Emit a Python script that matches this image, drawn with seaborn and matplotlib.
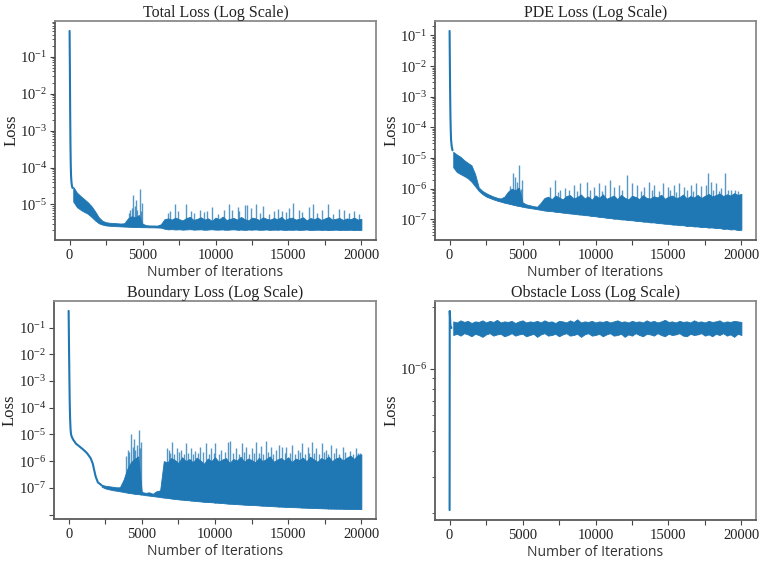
import numpy as np
import matplotlib
matplotlib.use("Agg")
import matplotlib.pyplot as plt
import seaborn as sns
from matplotlib.ticker import MultipleLocator, LogLocator, FuncFormatter, NullFormatter

sns.set_theme(style="ticks")
plt.rcParams["font.family"] = ["Liberation Serif", "DejaVu Serif"]
plt.rcParams["mathtext.fontset"] = "stix"
plt.rcParams["axes.unicode_minus"] = False

BLUE = "#1f77b4"

# ---------------------------------------------------------------- data
# Iteration grid on which the noisy band (lower / upper envelope) is sampled
band_iters = np.arange(250, 20001, 250)
boundary_band_iters = np.arange(2250, 20001, 250)

# ---- Total loss
total_head_iters = [0, 20, 40, 60, 80, 100, 130, 160, 200]
total_head_loss = [0.5, 0.05, 3e-3, 4e-4, 1.2e-4, 6e-5, 4e-5, 3.2e-5, 2.8e-5]
total_low = np.array([
    12, 8.5, 7.2, 6.3, 5.6, 4.6, 3.7, 3.1, 2.85, 2.7,
    2.65, 2.6, 2.58, 2.55, 2.52, 2.5, 2.48, 2.46, 2.45, 2.42,
    2.42, 2.4, 2.4, 2.38, 2.36, 2.2, 2.12, 2.15, 2.1, 2.13,
    2.08, 2.11, 2.14, 2.09, 2.1, 2.12, 2.07, 2.1, 2.13, 2.08,
    2.09, 2.11, 2.06, 2.1, 2.12, 2.07, 2.09, 2.05, 2.1, 2.08,
    2.11, 2.06, 2.08, 2.1, 2.05, 2.09, 2.07, 2.1, 2.04, 2.08,
    2.06, 2.09, 2.05, 2.07, 2.1, 2.04, 2.06, 2.08, 2.05, 2.07,
    2.03, 2.06, 2.08, 2.04, 2.06, 2.05, 2.07, 2.03, 2.05, 2.04]) * 1e-6
total_high = np.array([
    30, 21, 17, 14, 11.5, 9, 6.5, 4.5, 3.6, 3.3,
    3.2, 3.15, 3.1, 3.05, 3.1, 4.2, 4.8, 4.5, 5.2, 3.0,
    2.75, 2.7, 2.7, 2.68, 2.9, 4.0, 4.2, 3.9, 4.4, 4.0,
    3.7, 4.3, 4.6, 3.8, 4.1, 4.5, 3.9, 4.2, 3.6, 4.4,
    4.0, 4.7, 3.8, 4.1, 4.3, 3.9, 4.6, 4.0, 3.7, 4.4,
    4.2, 3.8, 4.5, 4.1, 3.9, 4.3, 4.0, 4.6, 3.8, 4.2,
    4.4, 3.9, 4.1, 4.5, 3.7, 4.3, 4.0, 4.4, 3.8, 4.2,
    4.6, 3.9, 4.1, 4.3, 3.8, 4.2, 4.0, 4.4, 3.9, 4.1]) * 1e-6
total_spike_iters = [4050, 4150, 4250, 4350, 4450, 4550, 4650, 4800, 4900, 4980,
                     6750, 6900, 7210, 7440, 7950, 8290, 8520, 8930, 9210, 9430,
                     9730, 10190, 10580, 10920, 11150, 11520, 11610, 12020, 12180, 12410,
                     12750, 13030, 13280, 13670, 14010, 14310, 14540, 14820, 15040, 15340,
                     15730, 15960, 16420, 16690, 16990, 17290, 17680, 18020, 18480, 18820,
                     19120, 19510, 19850]
total_spike_tops = np.array([6, 7, 8, 18, 9, 13, 7, 27, 6.5, 11,
                             6.0, 6.6, 10.5, 6.6, 10, 6.6, 6.0, 7.3, 6.2, 6.6,
                             8.5, 5.4, 7.3, 10, 7.3, 8.5, 6.6, 9.5, 9.5, 8.1,
                             10.5, 6.0, 9.0, 5.4, 6.6, 7.7, 6.6, 6.2, 8.1, 11,
                             7.3, 6.2, 8.5, 10, 6.0, 7.3, 10, 5.4, 7.7, 7.3,
                             6.0, 6.6, 5.4]) * 1e-6

# ---- PDE loss
pde_head_iters = [0, 20, 40, 60, 80, 100, 130, 160, 200]
pde_head_loss = [0.14, 0.01, 1e-3, 2e-4, 8e-5, 4e-5, 2.8e-5, 2.2e-5, 1.8e-5]
pde_low = np.array([
    50, 35, 30, 26, 22, 17, 12, 8.5, 6.7, 5.6,
    5.0, 4.5, 4.1, 3.8, 3.5, 3.3, 3.1, 2.9, 2.75, 2.6,
    2.45, 2.35, 2.25, 2.15, 2.05, 1.95, 1.88, 1.86, 1.78, 1.74,
    1.66, 1.63, 1.56, 1.53, 1.47, 1.44, 1.38, 1.36, 1.29, 1.27,
    1.21, 1.19, 1.13, 1.11, 1.06, 1.05, 1.0, 0.99, 0.95, 0.94,
    0.9, 0.89, 0.85, 0.84, 0.8, 0.8, 0.76, 0.75, 0.72, 0.72,
    0.68, 0.68, 0.65, 0.65, 0.61, 0.62, 0.59, 0.59, 0.56, 0.57,
    0.54, 0.55, 0.52, 0.53, 0.49, 0.5, 0.47, 0.48, 0.45, 0.46]) * 1e-7
pde_high = np.array([
    160, 130, 110, 85, 70, 58, 30, 11, 8.5, 7.2,
    6.3, 5.6, 5.1, 4.8, 5.5, 8, 10, 9, 11, 3.6,
    3.1, 2.9, 2.7, 2.6, 3.5, 5.0, 5.5, 4.6, 6.0, 5.2,
    4.5, 5.8, 6.2, 4.8, 5.4, 6.5, 4.9, 5.6, 4.4, 6.1,
    5.0, 6.6, 4.7, 5.3, 6.0, 4.6, 6.3, 5.1, 4.5, 5.9,
    5.4, 4.6, 6.2, 5.0, 4.8, 5.7, 5.2, 6.4, 4.7, 5.5,
    6.0, 5.0, 5.3, 6.5, 4.8, 5.8, 5.2, 6.3, 5.0, 5.9,
    6.8, 5.6, 6.2, 7.0, 5.8, 6.6, 6.0, 7.2, 6.3, 6.8]) * 1e-7
pde_spike_iters = [4140, 4320, 4490, 4600, 4780, 4900, 4990,
                   6900, 7240, 7400, 7590, 7930, 8200, 8510, 8750, 8970, 9430,
                   9650, 9890, 10230, 10450, 10620, 10990, 11270, 11610, 11850, 12190,
                   12530, 12870, 13100, 13330, 13680, 13900, 14020, 14350, 14600, 14940,
                   15100, 15360, 15550, 15750, 16090, 16300, 16550, 16700, 16900, 17200,
                   17590, 17700, 17930, 18050, 18280, 18450, 18620, 18850, 19080, 19300,
                   19540, 19800]
pde_spike_tops = np.array([12, 33, 25, 17, 59, 10, 19,
                           11.6, 19, 8, 9, 10.3, 9, 13, 8.5, 15.7, 16.9,
                           9, 11.6, 14.9, 8.5, 13, 19, 11.6, 13, 9, 29,
                           15.7, 13, 8.5, 11.6, 16.9, 9, 13, 8.5, 14.9, 11.6,
                           9, 13, 8, 15.7, 11.6, 9, 13, 8.5, 15.7, 12,
                           13, 33, 16.9, 9, 14.9, 8.5, 10.3, 33, 9, 9,
                           9, 8.5]) * 1e-7

# ---- Boundary loss
boundary_head_iters = [0, 25, 50, 75, 100, 130, 160, 200, 300, 500, 750, 1000,
                       1250, 1500, 1650, 1750, 1850, 2000, 2250]
boundary_head_loss = [0.42, 2e-2, 1.5e-3, 1.5e-4, 4e-5, 1.6e-5, 1.05e-5, 8.5e-6,
                      6.5e-6, 4.5e-6, 3.5e-6, 2.7e-6, 2e-6, 1.3e-6, 8e-7, 4.5e-7,
                      2.6e-7, 1.6e-7, 1.25e-7]
boundary_low = np.array([
    11, 9.5, 8.8, 8.2, 7.8, 7.4, 7.0, 6.6, 6.3, 6.0,
    5.8, 5.6, 5.3, 5.1, 4.9, 4.7, 4.5, 4.3, 4.2, 4.0,
    3.85, 3.7, 3.6, 3.5, 3.4, 3.3, 3.2, 3.1, 3.0, 2.95,
    2.9, 2.8, 2.75, 2.7, 2.6, 2.55, 2.5, 2.45, 2.4, 2.35,
    2.3, 2.28, 2.25, 2.2, 2.15, 2.12, 2.1, 2.05, 2.0, 1.98,
    1.95, 1.92, 1.9, 1.88, 1.85, 1.82, 1.8, 1.78, 1.76, 1.74,
    1.72, 1.7, 1.68, 1.67, 1.66, 1.65, 1.64, 1.63, 1.62, 1.61,
    1.6, 1.6]) * 1e-8
boundary_high = np.array([
    13, 12, 11.5, 11, 10.5, 10.5, 20, 50, 90, 120,
    150, 7, 6.5, 6.8, 6.0, 7.5, 8.0, 100, 90, 130,
    110, 85, 140, 100, 120, 90, 135, 105, 80, 125,
    100, 140, 95, 115, 130, 85, 120, 105, 145, 95,
    125, 110, 90, 135, 100, 120, 150, 95, 115, 130,
    105, 140, 90, 125, 110, 135, 100, 145, 115, 95,
    130, 110, 150, 100, 125, 140, 105, 135, 160, 120,
    170, 180]) * 1e-8
boundary_spike_iters = [3900, 4050, 4150, 4290, 4380, 4470, 4560, 4650, 4790, 4880, 4975,
                        6700, 6850, 6950, 7080, 7230, 7380, 7530, 7680, 7850, 8000,
                        8180, 8370, 8500, 8640, 8820, 8990, 9200, 9380, 9560, 9750,
                        9900, 10020, 10250, 10430, 10650, 10890, 11050, 11250, 11440, 11650,
                        11850, 12000, 12130, 12300, 12500, 12650, 12820, 13000, 13120, 13300,
                        13460, 13650, 13800, 13980, 14150, 14380, 14610, 14800, 14880, 15100,
                        15290, 15450, 15640, 15800, 15940, 16150, 16330, 16450, 16620, 16750,
                        16900, 17100, 17310, 17450, 17590, 17750, 17930, 18100, 18270, 18450,
                        18730, 18900, 19190, 19400, 19650, 19750, 19880]
boundary_spike_tops = np.array([1.5, 2.5, 2.2, 10, 3.5, 6.5, 2.6, 4, 15, 3, 5,
                                3.0, 2.6, 2.0, 5.4, 1.8, 3.0, 2.2, 2.6, 1.9, 4.9,
                                2.1, 3.0, 1.8, 2.3, 2.0, 3.5, 2.2, 4.7, 1.9, 3.0,
                                2.1, 4.7, 1.8, 2.6, 2.2, 5.4, 5.6, 2.0, 3.0, 1.9,
                                4.7, 2.2, 3.5, 1.8, 3.0, 2.0, 5.4, 2.1, 3.7, 1.9,
                                5.8, 2.2, 3.5, 1.8, 2.6, 4.0, 3.5, 2.0, 3.5, 2.1,
                                4.0, 1.9, 2.6, 2.2, 4.7, 1.8, 3.5, 2.0, 5.4, 2.1,
                                3.0, 1.9, 4.7, 2.2, 2.6, 1.8, 4.0, 2.1, 3.0, 1.9,
                                3.5, 2.2, 2.3, 1.8, 3.0, 2.0, 2.0]) * 1e-6

# ---- Obstacle loss
obstacle_head_iters = [0, 10, 60, 125]
obstacle_head_loss = [2.07e-7, 1.91e-6, 1.62e-6, 1.58e-6]
obstacle_low = np.array([
    14.6, 14.8, 14.5, 14.9, 14.7, 14.4, 14.8, 14.6, 14.3, 14.7,
    14.9, 14.5, 14.7, 14.8, 14.4, 14.6, 14.9, 14.5, 14.7, 14.8,
    14.4, 14.6, 14.8, 14.3, 14.7, 14.9, 14.5, 14.6, 14.8, 14.4,
    14.7, 14.9, 14.5, 14.6, 14.8, 14.3, 14.7, 14.9, 14.5, 14.6,
    14.8, 14.4, 14.7, 14.9, 14.5, 14.6, 14.8, 14.3, 14.7, 14.5,
    14.9, 14.6, 14.4, 14.8, 14.7, 14.5, 14.9, 14.6, 14.4, 14.8,
    14.6, 14.7, 14.9, 14.5, 14.4, 14.8, 14.6, 14.7, 14.9, 14.5,
    14.7, 14.4, 14.8, 14.6, 14.9, 14.5, 14.7, 14.3, 14.8, 14.6]) * 1e-7
obstacle_high = np.array([
    17.0, 16.8, 17.2, 16.9, 17.1, 16.7, 17.0, 16.9, 17.2, 16.8,
    17.1, 16.9, 17.3, 16.8, 17.0, 16.9, 17.1, 16.7, 17.0, 17.2,
    16.8, 17.0, 16.9, 17.1, 16.8, 17.2, 16.9, 17.0, 16.7, 17.1,
    17.0, 16.8, 17.2, 16.9, 17.4, 16.8, 17.0, 16.9, 17.1, 16.8,
    17.0, 16.9, 17.1, 16.8, 17.0, 17.2, 16.9, 17.0, 16.8, 17.1,
    16.9, 17.0, 16.8, 17.2, 16.9, 17.1, 16.8, 17.0, 17.3, 16.9,
    17.0, 16.8, 17.1, 16.9, 17.0, 16.8, 17.2, 16.9, 17.0, 16.8,
    17.1, 16.9, 17.0, 17.2, 16.8, 17.0, 16.9, 17.1, 17.0, 16.9]) * 1e-7
obstacle_spike_iters = []
obstacle_spike_tops = []

titles = ["Total Loss (Log Scale)", "PDE Loss (Log Scale)",
          "Boundary Loss (Log Scale)", "Obstacle Loss (Log Scale)"]
lowest_labelled = [1e-6, 1e-7, 1e-7, 1e-6]

panels = [
    (total_head_iters, total_head_loss, band_iters, total_low, total_high,
     total_spike_iters, total_spike_tops),
    (pde_head_iters, pde_head_loss, band_iters, pde_low, pde_high,
     pde_spike_iters, pde_spike_tops),
    (boundary_head_iters, boundary_head_loss, boundary_band_iters, boundary_low,
     boundary_high, boundary_spike_iters, boundary_spike_tops),
    (obstacle_head_iters, obstacle_head_loss, band_iters, obstacle_low,
     obstacle_high, obstacle_spike_iters, obstacle_spike_tops),
]

# ---------------------------------------------------------------- figure
fig = plt.figure(figsize=(7.61, 5.61), dpi=100)
W, H = 761, 561
rects = [
    (55, 21, 321, 219), (435, 21, 321, 219),
    (54, 301, 322, 218), (435, 301, 321, 219),
]


def decade_formatter(floor):
    def fmt(v, pos):
        if v < floor * 0.999:
            return ""
        e = int(round(np.log10(v)))
        return rf"$\mathdefault{{10^{{{e}}}}}$"
    return FuncFormatter(fmt)


for (x0, y0, w, h), title, floor, spec in zip(rects, titles, lowest_labelled, panels):
    head_it, head_val, grid, low, high, sp_it, sp_top = spec
    ax = fig.add_axes([x0 / W, 1 - (y0 + h) / H, w / W, h / H])
    ax.set_yscale("log")

    # dense oscillation band of the loss curve
    ax.fill_between(grid, low, high, color=BLUE, linewidth=0.6, edgecolor=BLUE)
    # isolated spikes rising out of the band
    if len(sp_it):
        base = np.interp(sp_it, grid, low)
        ax.vlines(sp_it, base, sp_top, color=BLUE, linewidth=1.0, alpha=0.75)
    # initial steep descent
    sns.lineplot(x=head_it, y=head_val, ax=ax, color=BLUE, linewidth=1.5)

    ax.set_title(title, fontsize=11.5, pad=3, family="Liberation Serif", color="#222222")
    ax.set_ylabel("Loss", fontsize=12, family="Liberation Serif", color="#222222")
    ax.yaxis.set_label_coords(-0.112, 0.5)
    ax.set_xlabel("Number of Iterations", fontsize=10, family="Open Sans",
                  color="#333333", labelpad=2)

    ax.xaxis.set_major_locator(MultipleLocator(5000))
    ax.xaxis.set_minor_locator(MultipleLocator(2500))
    ax.yaxis.set_major_locator(LogLocator(base=10, numticks=20))
    ax.yaxis.set_major_formatter(decade_formatter(floor))
    ax.yaxis.set_minor_formatter(NullFormatter())

    ax.tick_params(axis="x", which="both", length=3.5, width=0.8, color="#444444",
                   labelsize=10.5, labelcolor="#222222", pad=3)
    ax.tick_params(axis="y", which="major", length=3.5, width=0.8, color="#444444",
                   labelsize=10.5, labelcolor="#222222", pad=2)
    ax.tick_params(axis="y", which="minor", length=2, width=0.6, color="#444444")

    for side, spine in ax.spines.items():
        spine.set_visible(True)
        spine.set_linewidth(1.3)
        spine.set_color("#5a5a5a" if side in ("left", "bottom") else "#8a8a8a")

fig.savefig("out.png", dpi=100)
